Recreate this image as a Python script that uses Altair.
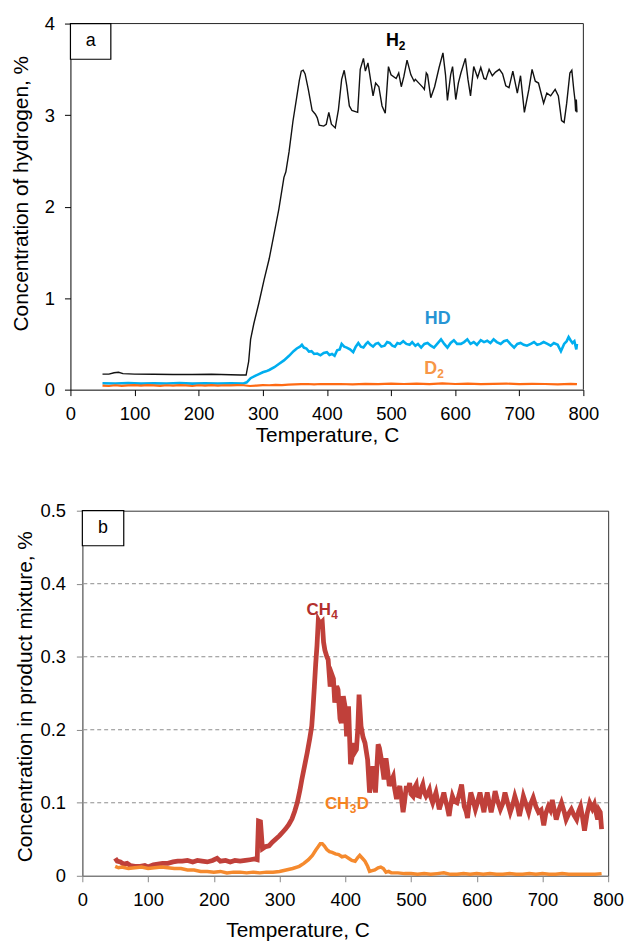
import altair as alt
import pandas as pd

FONT = "Liberation Sans"

# ---------------- panel (a) data ----------------
H2_T = [50, 60, 68, 75, 82, 100, 130, 160, 190, 220, 250, 265, 274, 278, 281, 286, 294, 302, 310, 317,
        325, 333, 336, 341, 347, 353, 357, 360, 363, 366, 371, 377, 382, 385, 388, 395, 399, 403, 407, 413,
        418, 423, 427, 431, 435, 439, 448, 452, 457, 460, 464, 468, 472, 476, 481, 486, 491, 496, 500, 508,
        512, 516, 520, 525, 531, 536, 538, 542, 546, 550, 552, 555, 557, 562, 568, 575, 581, 585, 588, 593,
        596, 601, 605, 609, 616, 620, 624, 629, 635, 640, 645, 648, 653, 658, 663, 669, 674, 679, 684, 690,
        697, 702, 708, 715, 720, 725, 730, 738, 743, 749, 756, 761, 766, 770, 774, 779, 782, 785, 787, 788,
        789, 790]
H2_V = [0.17, 0.17, 0.185, 0.19, 0.175, 0.17, 0.168, 0.165, 0.165, 0.168, 0.163, 0.16, 0.16, 0.31, 0.55, 0.72, 0.95, 1.2, 1.43, 1.68,
        1.97, 2.32, 2.38, 2.6, 2.93, 3.2, 3.38, 3.48, 3.49, 3.45, 3.28, 3.05, 3.01, 2.97, 2.89, 2.88, 2.9, 3.03, 2.9, 2.86,
        3.06, 3.39, 3.49, 3.32, 3.1, 3.05, 3.03, 3.5, 3.62, 3.48, 3.57, 3.39, 3.21, 3.35, 3.31, 3.1, 3.02, 3.53, 3.44, 3.4,
        3.46, 3.31, 3.42, 3.6, 3.44, 3.37, 3.39, 3.36, 3.33, 3.3, 3.28, 3.46, 3.44, 3.19, 3.31, 3.52, 3.68, 3.44, 3.16, 3.44,
        3.53, 3.17, 3.35, 3.46, 3.62, 3.39, 3.21, 3.53, 3.41, 3.52, 3.4, 3.39, 3.5, 3.43, 3.47, 3.5, 3.45, 3.32, 3.3, 3.48,
        3.24, 3.43, 3.03, 3.28, 3.5, 3.37, 3.35, 3.13, 3.24, 3.21, 3.28, 3.21, 2.94, 2.92, 3.13, 3.46, 3.49, 3.28, 3.16, 3.04,
        3.17, 3.03]

HD_T = [50, 70, 90, 110, 130, 150, 170, 190, 210, 230, 250, 270, 275, 281, 288, 294, 300, 305, 310, 318,
        325, 333, 341, 348, 353, 358, 361, 364, 368, 372, 376, 380, 385, 390, 395, 400, 404, 408, 412, 416,
        420, 423, 427, 431, 436, 441, 445, 449, 453, 457, 461, 464, 468, 472, 476, 480, 485, 490, 494, 498,
        502, 506, 510, 514, 519, 524, 529, 533, 538, 542, 547, 552, 557, 562, 567, 572, 578, 583, 588, 593,
        598, 603, 609, 614, 619, 624, 629, 634, 640, 645, 650, 655, 660, 665, 671, 676, 681, 686, 692, 697,
        702, 707, 712, 718, 723, 728, 733, 738, 744, 749, 754, 760, 765, 770, 774, 777, 780, 783, 786, 789, 790]
HD_V = [0.07, 0.068, 0.072, 0.066, 0.07, 0.068, 0.072, 0.066, 0.07, 0.068, 0.07, 0.068, 0.08, 0.125, 0.15, 0.17, 0.19, 0.2, 0.215, 0.245,
        0.28, 0.32, 0.37, 0.42, 0.45, 0.47, 0.49, 0.46, 0.45, 0.415, 0.42, 0.39, 0.395, 0.375, 0.4, 0.41, 0.38, 0.39, 0.37, 0.43,
        0.44, 0.5, 0.47, 0.46, 0.44, 0.41, 0.47, 0.51, 0.47, 0.46, 0.5, 0.52, 0.49, 0.47, 0.5, 0.51, 0.47, 0.48, 0.52, 0.51,
        0.48, 0.47, 0.51, 0.5, 0.53, 0.5, 0.49, 0.52, 0.48, 0.5, 0.46, 0.5, 0.51, 0.48, 0.46, 0.5, 0.55, 0.5, 0.46, 0.51,
        0.54, 0.5, 0.5, 0.52, 0.55, 0.5, 0.52, 0.49, 0.54, 0.52, 0.535, 0.51, 0.55, 0.52, 0.5, 0.53, 0.54, 0.5, 0.46, 0.5,
        0.51, 0.49, 0.48, 0.5, 0.52, 0.49, 0.5, 0.52, 0.5, 0.48, 0.51, 0.49, 0.42, 0.5, 0.53, 0.575, 0.54, 0.51, 0.53, 0.44, 0.5]

D2_T = [50, 60, 70, 80, 90, 100, 110, 120, 130, 140, 150, 160, 170, 180, 190, 200, 210, 220, 230, 240,
        250, 260, 270, 280, 290, 300, 310, 320, 330, 340, 350, 360, 370, 380, 390, 400, 420, 440, 460, 480,
        500, 520, 540, 560, 580, 600, 620, 640, 660, 680, 700, 720, 740, 760, 780, 790]
D2_V = [0.045, 0.04, 0.048, 0.042, 0.046, 0.05, 0.044, 0.05, 0.046, 0.042, 0.048, 0.044, 0.05, 0.046, 0.04, 0.048, 0.045, 0.05, 0.044, 0.048,
        0.046, 0.05, 0.048, 0.04, 0.045, 0.05, 0.048, 0.052, 0.05, 0.055, 0.058, 0.06, 0.062, 0.058, 0.062, 0.06, 0.062, 0.058, 0.064, 0.06,
        0.065, 0.062, 0.066, 0.06, 0.068, 0.062, 0.066, 0.06, 0.064, 0.066, 0.06, 0.064, 0.062, 0.058, 0.064, 0.06]

# ---------------- panel (b) data ----------------
CH4_T = [50, 53, 58, 63, 68, 73, 80, 88, 95, 100, 108, 115, 122, 130, 138, 145, 152, 160, 168, 175,
         182, 190, 198, 205, 210, 218, 225, 232, 240, 248, 255, 262, 266, 268, 271, 274, 279, 284, 289, 294,
         300, 305, 309, 314, 319, 323, 327, 331, 334, 338, 342, 346, 349, 351, 353, 355, 357, 359, 362, 365,
         367, 369, 372, 374, 377, 380, 382, 384, 387, 389, 392, 394, 397, 400, 402, 405, 408, 410, 412, 415,
         417, 419, 421, 424, 427, 430, 434, 437, 440, 442, 446, 450, 452, 455, 459, 462, 465, 467, 470, 473,
         475, 478, 480, 483, 485, 488, 490, 493, 495, 498, 500, 503, 505, 508, 510, 513, 515, 518, 520, 523,
         525, 528, 530, 533, 535, 538, 540, 543, 546, 550, 552, 555, 558, 560, 563, 566, 570, 573, 577, 579,
         581, 584, 586, 588, 591, 594, 598, 601, 605, 608, 611, 613, 616, 619, 622, 625, 628, 631, 636, 640,
         643, 647, 651, 655, 658, 661, 665, 668, 671, 675, 679, 682, 686, 690, 694, 698, 702, 705, 709, 712,
         715, 718, 721, 725, 729, 733, 736, 740, 744, 748, 752, 755, 758, 761, 764, 768, 772, 776, 779, 782,
         784, 786, 788, 790]
CH4_V = [0.024, 0.02, 0.019, 0.016, 0.017, 0.014, 0.013, 0.013, 0.014, 0.012, 0.015, 0.016, 0.017, 0.017, 0.019, 0.02, 0.02, 0.021, 0.019, 0.021,
         0.02, 0.019, 0.021, 0.024, 0.02, 0.021, 0.019, 0.021, 0.02, 0.021, 0.022, 0.023, 0.022, 0.075, 0.074, 0.037, 0.04, 0.041, 0.046, 0.05,
         0.055, 0.06, 0.064, 0.07, 0.078, 0.088, 0.1, 0.117, 0.132, 0.15, 0.168, 0.188, 0.205, 0.23, 0.259, 0.29, 0.315, 0.35, 0.345, 0.348,
         0.32, 0.309, 0.3, 0.296, 0.259, 0.275, 0.27, 0.237, 0.26, 0.255, 0.215, 0.209, 0.246, 0.23, 0.191, 0.232, 0.153, 0.16, 0.182, 0.17,
         0.173, 0.2, 0.248, 0.205, 0.19, 0.182, 0.159, 0.114, 0.13, 0.15, 0.114, 0.18, 0.175, 0.159, 0.132, 0.161, 0.14, 0.123, 0.13, 0.136,
         0.12, 0.105, 0.115, 0.123, 0.11, 0.087, 0.1, 0.123, 0.115, 0.127, 0.112, 0.109, 0.12, 0.125, 0.11, 0.109, 0.118, 0.125, 0.115, 0.109,
         0.112, 0.118, 0.108, 0.1, 0.106, 0.114, 0.105, 0.091, 0.1, 0.114, 0.105, 0.095, 0.082, 0.095, 0.109, 0.102, 0.1, 0.11, 0.125, 0.11,
         0.095, 0.088, 0.079, 0.095, 0.114, 0.105, 0.091, 0.1, 0.114, 0.1, 0.087, 0.1, 0.114, 0.1, 0.087, 0.1, 0.116, 0.105, 0.091, 0.1,
         0.114, 0.1, 0.087, 0.098, 0.109, 0.1, 0.082, 0.095, 0.109, 0.098, 0.087, 0.098, 0.107, 0.095, 0.087, 0.09, 0.069, 0.085, 0.095, 0.09,
         0.104, 0.09, 0.077, 0.09, 0.1, 0.088, 0.077, 0.085, 0.091, 0.083, 0.077, 0.088, 0.095, 0.08, 0.062, 0.085, 0.1, 0.092, 0.098, 0.085,
         0.077, 0.09, 0.087, 0.064]

CH3D_T = [50, 55, 60, 70, 80, 90, 100, 110, 120, 130, 140, 150, 160, 170, 180, 190, 200, 210, 220, 230,
          240, 250, 260, 270, 280, 290, 300, 310, 320, 330, 337, 344, 350, 355, 359, 362, 365, 368, 372, 376,
          380, 385, 390, 395, 400, 405, 410, 415, 419, 422, 426, 430, 434, 437, 441, 445, 450, 454, 458, 462,
          466, 470, 480, 490, 500, 510, 520, 530, 540, 550, 560, 570, 580, 590, 600, 610, 620, 630, 640, 650,
          660, 670, 680, 690, 700, 710, 720, 730, 740, 750, 760, 770, 780, 790]
CH3D_V = [0.013, 0.011, 0.012, 0.01, 0.011, 0.012, 0.01, 0.011, 0.012, 0.011, 0.01, 0.01, 0.008, 0.008, 0.006, 0.006, 0.005, 0.006, 0.004, 0.005,
          0.005, 0.004, 0.005, 0.004, 0.005, 0.005, 0.006, 0.008, 0.01, 0.013, 0.017, 0.022, 0.028, 0.035, 0.04, 0.044, 0.044, 0.041, 0.036, 0.033,
          0.032, 0.03, 0.029, 0.026, 0.027, 0.024, 0.021, 0.02, 0.025, 0.028, 0.024, 0.02, 0.013, 0.006, 0.007, 0.008, 0.011, 0.012, 0.01, 0.005,
          0.006, 0.004, 0.004, 0.003, 0.003, 0.002, 0.003, 0.002, 0.003, 0.004, 0.002, 0.002, 0.003, 0.002, 0.003, 0.002, 0.003, 0.002, 0.002, 0.003,
          0.002, 0.002, 0.003, 0.002, 0.003, 0.002, 0.002, 0.003, 0.002, 0.002, 0.002, 0.002, 0.002, 0.003]

X_TICKS = [0, 100, 200, 300, 400, 500, 600, 700, 800]
YA_TICKS = [0, 1, 2, 3, 4]
YB_TICKS = [0, 0.1, 0.2, 0.3, 0.4, 0.5]
YB_GRID = [0.1, 0.2, 0.3, 0.4]

# annotation text (labels + anchor positions in data units)
A_LABELS = pd.DataFrame({"T": [492, 552.6, 552], "v": [3.76, 0.716, 0.174],
                         "txt": ["H", "HD", "D"], "sub": ["2", "", "2"],
                         "c": ["#000000", "#2694D4", "#F79646"]})
B_LABELS = pd.DataFrame({"T": [341, 369], "v": [0.357, 0.091],
                         "txt": ["CH", "CH"], "sub": ["4", "3"], "tail": ["", "D"],
                         "c": ["#B3302D", "#F5821F"]})
A_BOX = pd.DataFrame({"T": [0], "T2": [63], "v": [3.61], "v2": [4.0], "lab": ["a"], "tc": [31.5], "vc": [3.805]})
B_BOX = pd.DataFrame({"T": [0], "T2": [63], "v": [0.452], "v2": [0.5], "lab": ["b"], "tc": [31.5], "vc": [0.476]})
# frame edges of panel (a): top edge (v = 4) and right edge (T = 800)
A_FRAME_TOP = pd.DataFrame({"T": [0], "T2": [800], "v": [4.0]})
A_FRAME_RIGHT = pd.DataFrame({"T": [800], "v": [0.0], "v2": [4.0]})


def series(T, V):
    return pd.DataFrame({"T": T, "v": V})


# ---------------- panel (a) ----------------
# panel (a) sits 12 px further left than panel (b): shift its x range and y axis
SHIFT = 12
xs_a = alt.Scale(domain=[0, 800], nice=False, zero=False, range=[-SHIFT, 517 - SHIFT])
ys_a = alt.Scale(domain=[0, 4], nice=False)
ax_xa = alt.Axis(values=X_TICKS, title="Temperature, C", grid=False, tickSize=6, labelPadding=9,
                 domainColor="#000", tickColor="#000", labelColor="#000", titleColor="#000",
                 labelFontSize=18.5, titleFontSize=21, labelFont=FONT, titleFont=FONT,
                 titleFontWeight="normal", titleY=35, titleX=(517 - 2 * SHIFT) / 2, labelFlush=False)
ax_ya = alt.Axis(values=YA_TICKS, title="Concentration of hydrogen, %", grid=False, tickSize=6,
                 labelPadding=10, titlePadding=13, domainColor="#000", tickColor="#000",
                 labelColor="#000", titleColor="#000", labelFontSize=18.5, titleFontSize=21,
                 labelFont=FONT, titleFont=FONT, titleFontWeight="normal", titleY=171, offset=SHIFT)
Xa = alt.X("T:Q", scale=xs_a, axis=ax_xa)
Ya = alt.Y("v:Q", scale=ys_a, axis=ax_ya)

frame_top = alt.Chart(A_FRAME_TOP).mark_rule(color="#222", strokeWidth=1).encode(x=Xa, x2="T2", y=Ya)
frame_right = alt.Chart(A_FRAME_RIGHT).mark_rule(color="#222", strokeWidth=1).encode(x=Xa, y=Ya, y2="v2")
h2 = alt.Chart(series(H2_T, H2_V)).mark_line(color="#111111", strokeWidth=1.4).encode(x=Xa, y=Ya)
hd = alt.Chart(series(HD_T, HD_V)).mark_line(color="#00AEEF", strokeWidth=2.6).encode(x=Xa, y=Ya)
d2 = alt.Chart(series(D2_T, D2_V)).mark_line(color="#FF6A13", strokeWidth=2.2).encode(x=Xa, y=Ya)

lab_a = alt.Chart(A_LABELS).mark_text(align="left", baseline="alphabetic", font=FONT, fontWeight="bold",
                                      fontSize=18).encode(x=Xa, y=Ya, text="txt:N",
                                                          color=alt.Color("c:N", scale=None))
sub_a = alt.Chart(A_LABELS).mark_text(align="left", baseline="alphabetic", font=FONT, fontWeight="bold",
                                      fontSize=12, dx=13, dy=4).encode(x=Xa, y=Ya, text="sub:N",
                                                                       color=alt.Color("c:N", scale=None))
box_a = alt.Chart(A_BOX).mark_rect(fill="white", stroke="#000", strokeWidth=1.2).encode(
    x=Xa, x2="T2", y=Ya, y2="v2")
boxt_a = alt.Chart(A_BOX).mark_text(font=FONT, fontSize=18, color="#000").encode(
    x=alt.X("tc:Q", scale=xs_a, axis=ax_xa), y=alt.Y("vc:Q", scale=ys_a, axis=ax_ya), text="lab:N")

top = alt.layer(frame_top, frame_right, h2, hd, d2, lab_a, sub_a, box_a, boxt_a).properties(
    width=517, height=369, view=alt.ViewBackground(strokeWidth=0))

# ---------------- panel (b) ----------------
GRAY = "#878787"
xs_b = alt.Scale(domain=[0, 800], nice=False, zero=False)
ys_b = alt.Scale(domain=[0, 0.5], nice=False)
ax_xb = alt.Axis(values=X_TICKS, title="Temperature, C", grid=False, tickSize=6, labelPadding=9,
                 domainColor=GRAY, tickColor=GRAY, labelColor="#000", titleColor="#000",
                 labelFontSize=18.5, titleFontSize=21, labelFont=FONT, titleFont=FONT,
                 titleFontWeight="normal", titleY=44, titleX=217, labelFlush=False)
ax_yb = alt.Axis(values=YB_TICKS, title="Concentration in product mixture, %", grid=False, tickSize=6,
                 labelPadding=11, titlePadding=5, domainColor=GRAY, tickColor=GRAY,
                 labelColor="#000", titleColor="#000", labelFontSize=18.5, titleFontSize=21,
                 labelFont=FONT, titleFont=FONT, titleFontWeight="normal", titleY=187,
                 labelExpr="datum.value == 0 ? '0' : format(datum.value, '.1f')")
Xb = alt.X("T:Q", scale=xs_b, axis=ax_xb)
Yb = alt.Y("v:Q", scale=ys_b, axis=ax_yb)

grid_b = alt.Chart(pd.DataFrame({"v": YB_GRID})).mark_rule(color="#8c8c8c", strokeWidth=1,
                                                          strokeDash=[4, 3]).encode(y=Yb)
ch4 = alt.Chart(series(CH4_T, CH4_V)).mark_line(color="#C0403A", strokeWidth=4.8).encode(x=Xb, y=Yb)
ch3d = alt.Chart(series(CH3D_T, CH3D_V)).mark_line(color="#F58A2E", strokeWidth=3.5).encode(x=Xb, y=Yb)

lab_b = alt.Chart(B_LABELS).mark_text(align="left", baseline="alphabetic", font=FONT, fontWeight="bold",
                                      fontSize=17).encode(x=Xb, y=Yb, text="txt:N",
                                                          color=alt.Color("c:N", scale=None))
sub_b = alt.Chart(B_LABELS).mark_text(align="left", baseline="alphabetic", font=FONT, fontWeight="bold",
                                      fontSize=12, dx=25, dy=4).encode(x=Xb, y=Yb, text="sub:N",
                                                                       color=alt.Color("c:N", scale=None))
tail_b = alt.Chart(B_LABELS).mark_text(align="left", baseline="alphabetic", font=FONT, fontWeight="bold",
                                       fontSize=17, dx=32).encode(x=Xb, y=Yb, text="tail:N",
                                                                  color=alt.Color("c:N", scale=None))
box_b = alt.Chart(B_BOX).mark_rect(fill="white", stroke="#000", strokeWidth=1.2).encode(
    x=Xb, x2="T2", y=Yb, y2="v2")
boxt_b = alt.Chart(B_BOX).mark_text(font=FONT, fontSize=18, color="#000").encode(
    x=alt.X("tc:Q", scale=xs_b, axis=ax_xb), y=alt.Y("vc:Q", scale=ys_b, axis=ax_yb), text="lab:N")

bottom = alt.layer(grid_b, ch4, ch3d, lab_b, sub_b, tail_b, box_b, boxt_b).properties(
    width=530, height=368, view=alt.ViewBackground(stroke="#333", strokeWidth=1))

chart = alt.vconcat(top, bottom, spacing=56).properties(
    padding={"left": 10, "top": 11, "right": 5, "bottom": 0},
    background="white",
).configure(font=FONT).configure_view(stroke=None)

chart.save("out.html", embed_options={"renderer": "svg", "actions": False})
